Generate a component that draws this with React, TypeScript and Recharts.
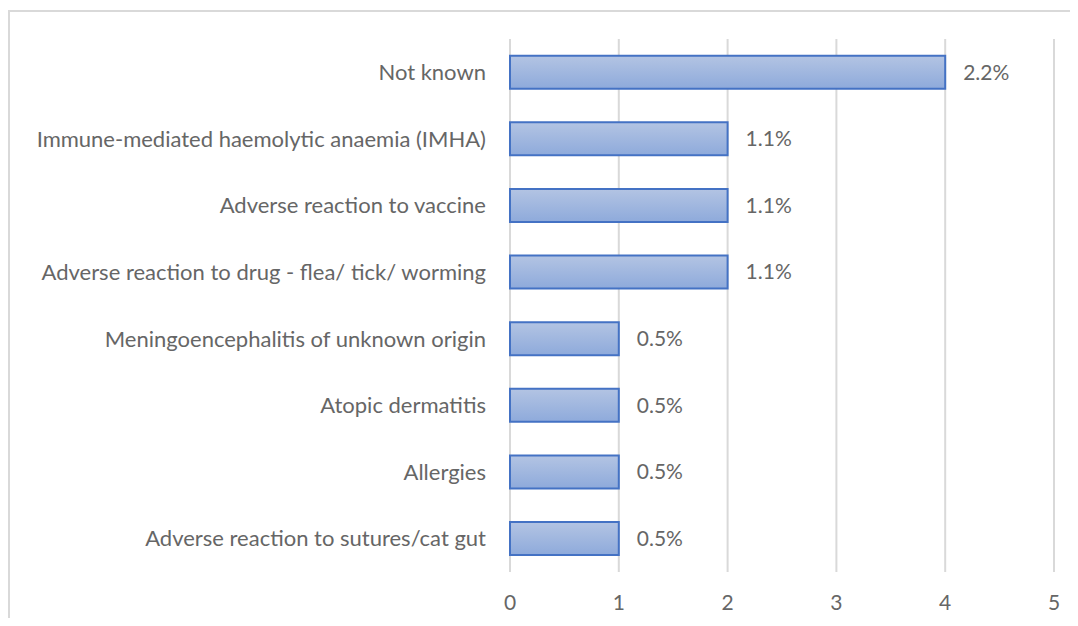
import React from "react";
import { Bar, BarChart, CartesianGrid, LabelList, XAxis, YAxis } from "recharts";

const categories = [
  "Not known",
  "Immune-mediated haemolytic anaemia (IMHA)",
  "Adverse reaction to vaccine",
  "Adverse reaction to drug - flea/ tick/ worming",
  "Meningoencephalitis of unknown origin",
  "Atopic dermatitis ",
  "Allergies",
  "Adverse reaction to sutures/cat gut",
];
const counts = [4, 2, 2, 2, 1, 1, 1, 1];
const percentLabels = ["2.2%", "1.1%", "1.1%", "1.1%", "0.5%", "0.5%", "0.5%", "0.5%"];
const xTicks = [0, 1, 2, 3, 4, 5];

const data = categories.map((name, i) => ({
  name,
  value: counts[i],
  pct: percentLabels[i],
}));

const font = "Lato, 'Open Sans', sans-serif";
const textColor = "#666666";

export default function App() {
  return (
    <div style={{ width: 1062, height: 610, overflow: "hidden", fontFamily: font }}>
      <div
        style={{
          marginTop: 2,
          width: 1100,
          height: 700,
          borderTop: "2px solid #d9d9d9",
          borderLeft: "2px solid #d9d9d9",
          boxSizing: "border-box",
        }}
      >
        <BarChart
          width={1060}
          height={606}
          data={data}
          layout="vertical"
          margin={{ top: 27, right: 16, bottom: 6, left: 0 }}
          barCategoryGap="25%"
        >
          <defs>
            <linearGradient id="barFill" x1="0" y1="0" x2="0" y2="1">
              <stop offset="0%" stopColor="#b3c4e3" />
              <stop offset="100%" stopColor="#8eaadb" />
            </linearGradient>
          </defs>
          <CartesianGrid horizontal={false} stroke="#d9d9d9" strokeWidth={2} />
          <XAxis
            type="number"
            domain={[0, 5]}
            ticks={xTicks}
            axisLine={false}
            tickLine={false}
            tickSize={0}
            tickMargin={23}
            height={40}
            tick={{ fill: textColor, fontSize: 21, fontFamily: font }}
          />
          <YAxis
            type="category"
            dataKey="name"
            width={500}
            axisLine={false}
            tickLine={false}
            tickSize={0}
            tickMargin={24}
            interval={0}
            tick={{ fill: textColor, fontSize: 22, fontFamily: font }}
          />
          <Bar
            dataKey="value"
            fill="url(#barFill)"
            stroke="#4472c4"
            strokeWidth={2}
            isAnimationActive={false}
          >
            <LabelList
              dataKey="pct"
              position="right"
              offset={18}
              style={{ fill: textColor, fontSize: 21, fontFamily: font }}
            />
          </Bar>
        </BarChart>
      </div>
    </div>
  );
}
